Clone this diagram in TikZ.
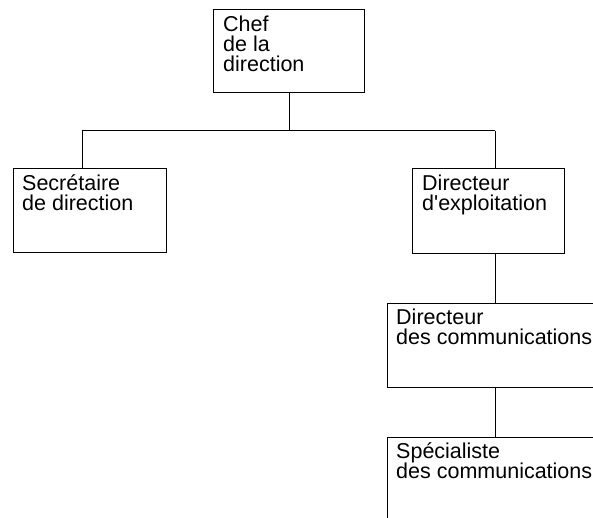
\documentclass[tikz,border=0pt]{standalone}
\usepackage{fontspec}
\setmainfont{Liberation Sans}[Ligatures=TeXOff]
\begin{document}
\begin{tikzpicture}[x=1pt,y=-1pt,
  orgbox/.style={draw=black, line width=1pt, rectangle, inner sep=0pt, anchor=north west},
  orgtext/.style={anchor=north west, inner sep=0pt, align=left, font=\fontsize{21.5}{20.3}\selectfont},
  link/.style={draw=black, line width=1pt}]
\useasboundingbox (0,0) rectangle (593,518);
\clip (0,0) rectangle (593,518);
\node[orgbox, minimum width=151pt, minimum height=83pt] (chef) at (213,9) {};
\node[orgbox, minimum width=153pt, minimum height=84pt] (sec) at (13,168) {};
\node[orgbox, minimum width=152pt, minimum height=85pt] (dex) at (412,168) {};
\node[orgbox, minimum width=230pt, minimum height=84pt] (dcom) at (387,303) {};
\node[orgbox, minimum width=230pt, minimum height=110pt] (spec) at (387,437) {};
\node[orgtext] (tchef) at ([xshift=10pt,yshift=-2pt]chef.north west) {\rule{0pt}{20pt}Chef\\de la\\direction};
\node[orgtext] (tsec) at ([xshift=9pt,yshift=-2pt]sec.north west) {\rule{0pt}{20pt}Secrétaire\\de direction};
\node[orgtext] (tdex) at ([xshift=10pt,yshift=-2pt]dex.north west) {\rule{0pt}{20pt}Directeur\\d'exploitation};
\node[orgtext] (tdcom) at ([xshift=9pt,yshift=-1pt]dcom.north west) {\rule{0pt}{20pt}Directeur\\des communications};
\node[orgtext] (tspec) at ([xshift=9pt,yshift=-1pt]spec.north west) {\rule{0pt}{20pt}Spécialiste\\des communications};
\coordinate (hl) at (82,131);
\coordinate (hr) at (495,131);
\draw[link] (chef.south) -- (chef.south |- hl);
\draw[link] (hl) -- (hr);
\draw[link] (hl) -- (hl |- sec.north);
\draw[link] (hr) -- (hr |- dex.north);
\draw[link] (hr |- dex.south) -- (hr |- dcom.north);
\draw[link] (hr |- dcom.south) -- (hr |- spec.north);
\end{tikzpicture}
\end{document}
